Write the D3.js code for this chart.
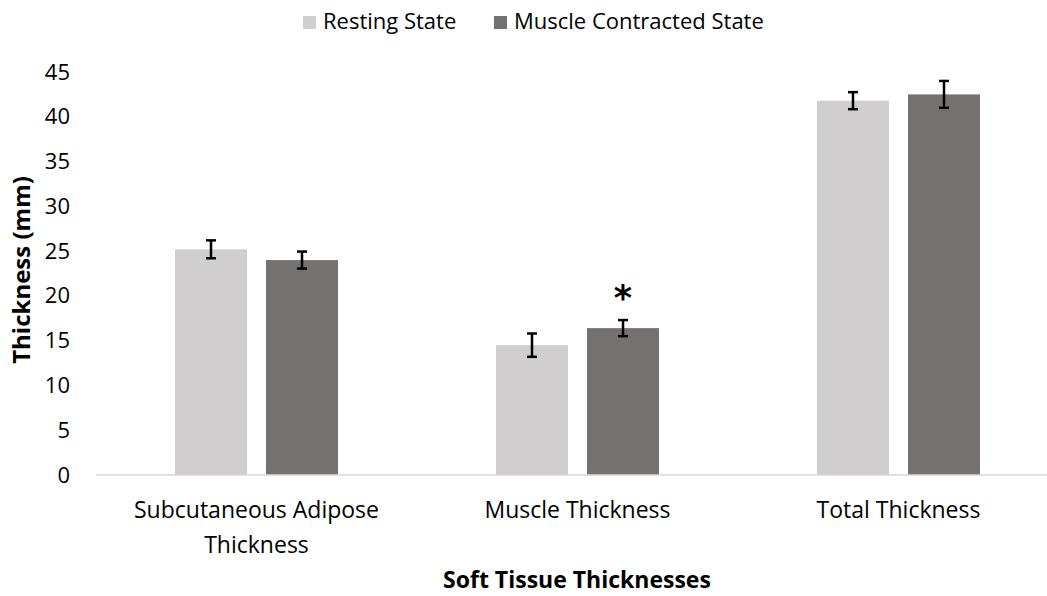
<!DOCTYPE html>
<html>
<head>
<meta charset="utf-8">
<script src="https://cdn.jsdelivr.net/npm/d3@7"></script>
<style>
  html, body { margin: 0; padding: 0; background: #fff; }
  svg { display: block; font-family: "Open Sans", Lato, sans-serif; }
</style>
</head>
<body>
<svg id="chart" width="1047" height="596"></svg>
<script>
// Soft tissue thickness (mm), mean ± error, for each state
const categories = ["Subcutaneous Adipose Thickness", "Muscle Thickness", "Total Thickness"];
const categoryLines = [["Subcutaneous Adipose", "Thickness"], ["Muscle Thickness"], ["Total Thickness"]];
const seriesNames = ["Resting State", "Muscle Contracted State"];
const restingMean = [25.2, 14.5, 41.8];
const restingErr = [1.0, 1.3, 0.95];
const contractedMean = [24.0, 16.4, 42.5];
const contractedErr = [0.95, 0.9, 1.5];
const contractedSignificant = [false, true, false];
const yTicks = [0, 5, 10, 15, 20, 25, 30, 35, 40, 45];
const colors = ["#D0CECE", "#767171"];

const FONT = "'Open Sans', Lato, sans-serif";
const svg = d3.select("#chart");

const y = d3.scaleLinear().domain([0, 45]).range([475, 72]);
const x = d3.scaleBand().domain(categories).range([96, 1059]).paddingInner(0).paddingOuter(0);
const x1 = d3.scaleBand().domain(seriesNames).range([0, x.bandwidth()])
  .paddingInner(0.209).paddingOuter(0.868);

const rows = [];
categories.forEach((c, i) => {
  rows.push({ cat: c, s: seriesNames[0], v: restingMean[i], e: restingErr[i], sig: false });
  rows.push({ cat: c, s: seriesNames[1], v: contractedMean[i], e: contractedErr[i], sig: contractedSignificant[i] });
});

// y axis labels (no axis line or tick marks)
const yAxis = svg.append("g").attr("transform", "translate(70,0)")
  .call(d3.axisLeft(y).tickValues(yTicks).tickSize(0).tickPadding(0));
yAxis.select(".domain").remove();
yAxis.selectAll("text").attr("font-size", 22).attr("fill", "#000").attr("font-family", FONT);

// bars
const color = d3.scaleOrdinal().domain(seriesNames).range(colors);
svg.append("g").selectAll("rect").data(rows).join("rect")
  .attr("x", d => x(d.cat) + x1(d.s))
  .attr("y", d => y(d.v))
  .attr("width", x1.bandwidth())
  .attr("height", d => y(0) - y(d.v))
  .attr("fill", d => color(d.s));

// baseline
svg.append("line").attr("x1", x.range()[0]).attr("x2", x.range()[1])
  .attr("y1", y(0)).attr("y2", y(0)).attr("stroke", "#d9d9d9").attr("stroke-width", 1.5);

// error bars
const eb = svg.append("g").attr("stroke", "#000").attr("stroke-width", 2.5).attr("fill", "none");
rows.forEach(d => {
  const cx = x(d.cat) + x1(d.s) + x1.bandwidth() / 2;
  const hi = y(d.v + d.e), lo = y(d.v - d.e);
  eb.append("line").attr("x1", cx).attr("x2", cx).attr("y1", hi).attr("y2", lo);
  eb.append("line").attr("x1", cx - 5).attr("x2", cx + 5).attr("y1", hi).attr("y2", hi);
  eb.append("line").attr("x1", cx - 5).attr("x2", cx + 5).attr("y1", lo).attr("y2", lo);
});

// significance marker
svg.append("g").selectAll("text").data(rows.filter(d => d.sig)).join("text")
  .attr("x", d => x(d.cat) + x1(d.s) + x1.bandwidth() / 2)
  .attr("y", d => y(d.v + d.e))
  .attr("dy", -10)
  .attr("text-anchor", "middle")
  .attr("font-size", 35).attr("font-weight", "bold")
  .attr("font-family", "'DejaVu Sans', sans-serif")
  .text("*");

// category labels
const catG = svg.append("g");
categories.forEach((c, i) => {
  const cx = x(c) + x.bandwidth() / 2;
  const t = catG.append("text")
    .attr("x", cx).attr("y", 518)
    .attr("text-anchor", "middle")
    .attr("font-size", 23).attr("fill", "#000").attr("font-family", FONT);
  categoryLines[i].forEach((ln, j) => {
    t.append("tspan").attr("x", cx).attr("dy", j === 0 ? 0 : 35).text(ln);
  });
});

// axis titles
svg.append("text").attr("x", 577).attr("y", 588).attr("text-anchor", "middle")
  .attr("font-family", FONT)
  .attr("font-size", 23).attr("font-weight", "bold").text("Soft Tissue Thicknesses");
svg.append("text").attr("transform", "translate(30,270) rotate(-90)")
  .attr("text-anchor", "middle").attr("font-family", FONT)
  .attr("font-size", 24).attr("font-weight", "bold").text("Thickness (mm)");

// legend
const legendX = [303, 494];
const lg = svg.append("g");
seriesNames.forEach((s, i) => {
  lg.append("rect").attr("x", legendX[i]).attr("y", 16).attr("width", 13).attr("height", 13).attr("fill", colors[i]);
  lg.append("text").attr("x", legendX[i] + 20).attr("y", 29).attr("font-size", 22)
    .attr("font-family", FONT).attr("fill", "#000").text(s);
});
</script>
</body>
</html>
